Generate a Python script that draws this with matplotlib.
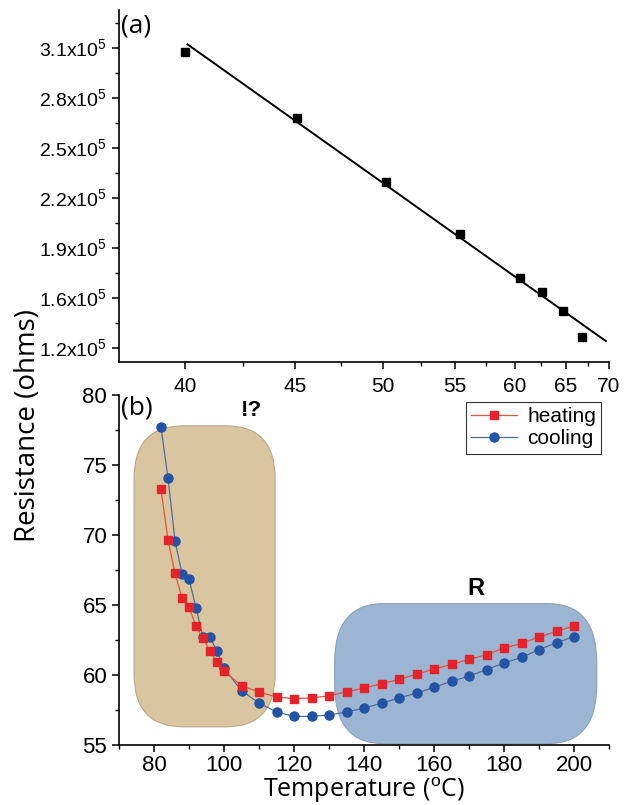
import numpy as np
import matplotlib
matplotlib.use('Agg')
from matplotlib import pyplot as plt
from matplotlib.patches import FancyBboxPatch
from matplotlib.ticker import FixedLocator, MultipleLocator

plt.rcParams['font.family'] = ['Liberation Sans', 'DejaVu Sans']
plt.rcParams['mathtext.fontset'] = 'custom'
plt.rcParams['mathtext.rm'] = 'Liberation Sans'

# (a) resistance vs temperature, reciprocal temperature axis
temp_a = [40, 45.1, 50.2, 55.4, 60.5, 62.6, 64.7, 66.8]
res_a = [3.078e5, 2.678e5, 2.298e5, 1.984e5, 1.722e5, 1.634e5, 1.522e5, 1.368e5]
fit_temp = [40.1, 69.6]
fit_res = [3.122e5, 1.342e5]
xticks_a = [40, 45, 50, 55, 60, 65, 70]
yticks_a = [3.1e5, 2.8e5, 2.5e5, 2.2e5, 1.9e5, 1.6e5, 1.3e5]
ylabels_a = ['3.1x10$^5$', '2.8x10$^5$', '2.5x10$^5$', '2.2x10$^5$',
             '1.9x10$^5$', '1.6x10$^5$', '1.2x10$^5$']

# (b) heating / cooling cycle
temp_heat = [82, 84, 86, 88, 90, 92, 94, 96, 98, 100, 105, 110, 115, 120, 125,
             130, 135, 140, 145, 150, 155, 160, 165, 170, 175, 180, 185, 190,
             195, 200]
res_heat = [73.26, 69.64, 67.26, 65.52, 64.84, 63.50, 62.62, 61.71, 60.91, 60.29,
            59.24, 58.79, 58.43, 58.31, 58.36, 58.52, 58.79, 59.07, 59.38, 59.69,
            60.05, 60.43, 60.76, 61.12, 61.45, 61.93, 62.26, 62.71, 63.12, 63.52]
temp_cool = [82, 84, 86, 88, 90, 92, 94, 96, 98, 100, 105, 110, 115, 120, 125,
             130, 135, 140, 145, 150, 155, 160, 165, 170, 175, 180, 185, 190,
             195, 200]
res_cool = [77.69, 74.05, 69.59, 67.24, 66.84, 64.81, 62.69, 62.69, 61.71, 60.48,
            58.88, 58.00, 57.36, 57.05, 57.05, 57.14, 57.36, 57.64, 57.98, 58.36,
            58.71, 59.12, 59.55, 59.93, 60.38, 60.86, 61.26, 61.81, 62.31, 62.74]

fig = plt.figure(figsize=(6.3, 8.05), dpi=100)

# ---- panel (a)
ax1 = fig.add_axes([0.1889, 0.5503, 0.7778, 0.4373])
ax1.set_xscale('function', functions=(lambda t: -1.0 / t, lambda u: -1.0 / u))
ax1.set_xlim(37.5, 70)
ax1.set_ylim(1.216e5, 3.328e5)
ax1.plot(fit_temp, fit_res, color='black', lw=1.4, zorder=2)
ax1.plot(temp_a, res_a, 's', color='black', ms=6, zorder=3)
ax1.xaxis.set_major_locator(FixedLocator(xticks_a))
ax1.xaxis.set_minor_locator(FixedLocator([42.5, 47.5, 52.5, 57.5, 62.5, 67.5]))
ax1.set_xticklabels([str(t) for t in xticks_a])
ax1.yaxis.set_major_locator(FixedLocator(yticks_a))
ax1.yaxis.set_minor_locator(FixedLocator([3.25e5, 2.95e5, 2.65e5, 2.35e5,
                                          2.05e5, 1.75e5, 1.45e5]))
ax1.set_yticklabels(ylabels_a)
ax1.tick_params(axis='x', labelsize=15, pad=6)
ax1.tick_params(axis='y', labelsize=14)
ax1.text(0.004, 0.99, '(a)', transform=ax1.transAxes, fontsize=19,
         family='Open Sans', va='top', ha='left')

# ---- panel (b)
ax2 = fig.add_axes([0.1889, 0.0745, 0.7778, 0.4348])
ax2.set_xlim(70, 210)
ax2.set_ylim(55, 80)

tan_box = FancyBboxPatch((74.3, 56.3), 40.3, 21.5,
                         boxstyle='round,pad=0,rounding_size=14',
                         mutation_aspect=0.27, facecolor='#D9C6A0',
                         edgecolor='#BCA985', lw=0.8, zorder=1)
blue_box = FancyBboxPatch((131.6, 55.1), 74.9, 10.0,
                          boxstyle='round,pad=0,rounding_size=14',
                          mutation_aspect=0.3, facecolor='#9CB5D3',
                          edgecolor='#8CA2BC', lw=0.8, zorder=1)
ax2.add_patch(tan_box)
ax2.add_patch(blue_box)

ax2.plot(temp_heat, res_heat, '-s', color='#E0553F', mfc='#E5232A', mec='#E5232A',
         lw=0.9, ms=5.5, label='heating', zorder=3)
ax2.plot(temp_cool, res_cool, '-o', color='#4F6C95', mfc='#2253A4', mec='#2253A4',
         lw=0.9, ms=6.5, label='cooling', zorder=2)

ax2.xaxis.set_major_locator(MultipleLocator(20))
ax2.xaxis.set_minor_locator(MultipleLocator(10))
ax2.yaxis.set_major_locator(MultipleLocator(5))
ax2.yaxis.set_minor_locator(MultipleLocator(2.5))
ax2.tick_params(axis='both', labelsize=16)
ax2.tick_params(axis='x', pad=2)
ax2.set_xlabel('Temperature ($^{\\rm o}$C)', fontsize=18, family='Open Sans',
               labelpad=0)

ax2.text(0.004, 1.0, '(b)', transform=ax2.transAxes, fontsize=19,
         family='Open Sans', va='top', ha='left')
ax2.text(0.27, 0.955, '!?', transform=ax2.transAxes, fontsize=16,
         fontweight='bold', ha='center', va='center')
ax2.text(0.728, 0.447, 'R', transform=ax2.transAxes, fontsize=17,
         fontweight='bold', ha='center', va='center')

leg = ax2.legend(loc='upper right', bbox_to_anchor=(0.984, 0.98), fontsize=15,
                 frameon=True, fancybox=False, edgecolor='black',
                 borderaxespad=0, handlelength=2.2, borderpad=0.25,
                 labelspacing=0.15, handletextpad=0.5)
leg.get_frame().set_linewidth(0.8)

for ax in (ax1, ax2):
    ax.spines['top'].set_visible(False)
    ax.spines['right'].set_visible(False)
    ax.spines['left'].set_linewidth(1.2)
    ax.spines['bottom'].set_linewidth(1.2)
    ax.tick_params(which='major', direction='out', length=5, width=1.1)
    ax.tick_params(which='minor', direction='out', length=3, width=1.0)

fig.text(0.045, 0.472, 'Resistance (ohms)', rotation=90, fontsize=20,
         family='Open Sans', ha='center', va='center')

fig.savefig('out.png', dpi=100)
